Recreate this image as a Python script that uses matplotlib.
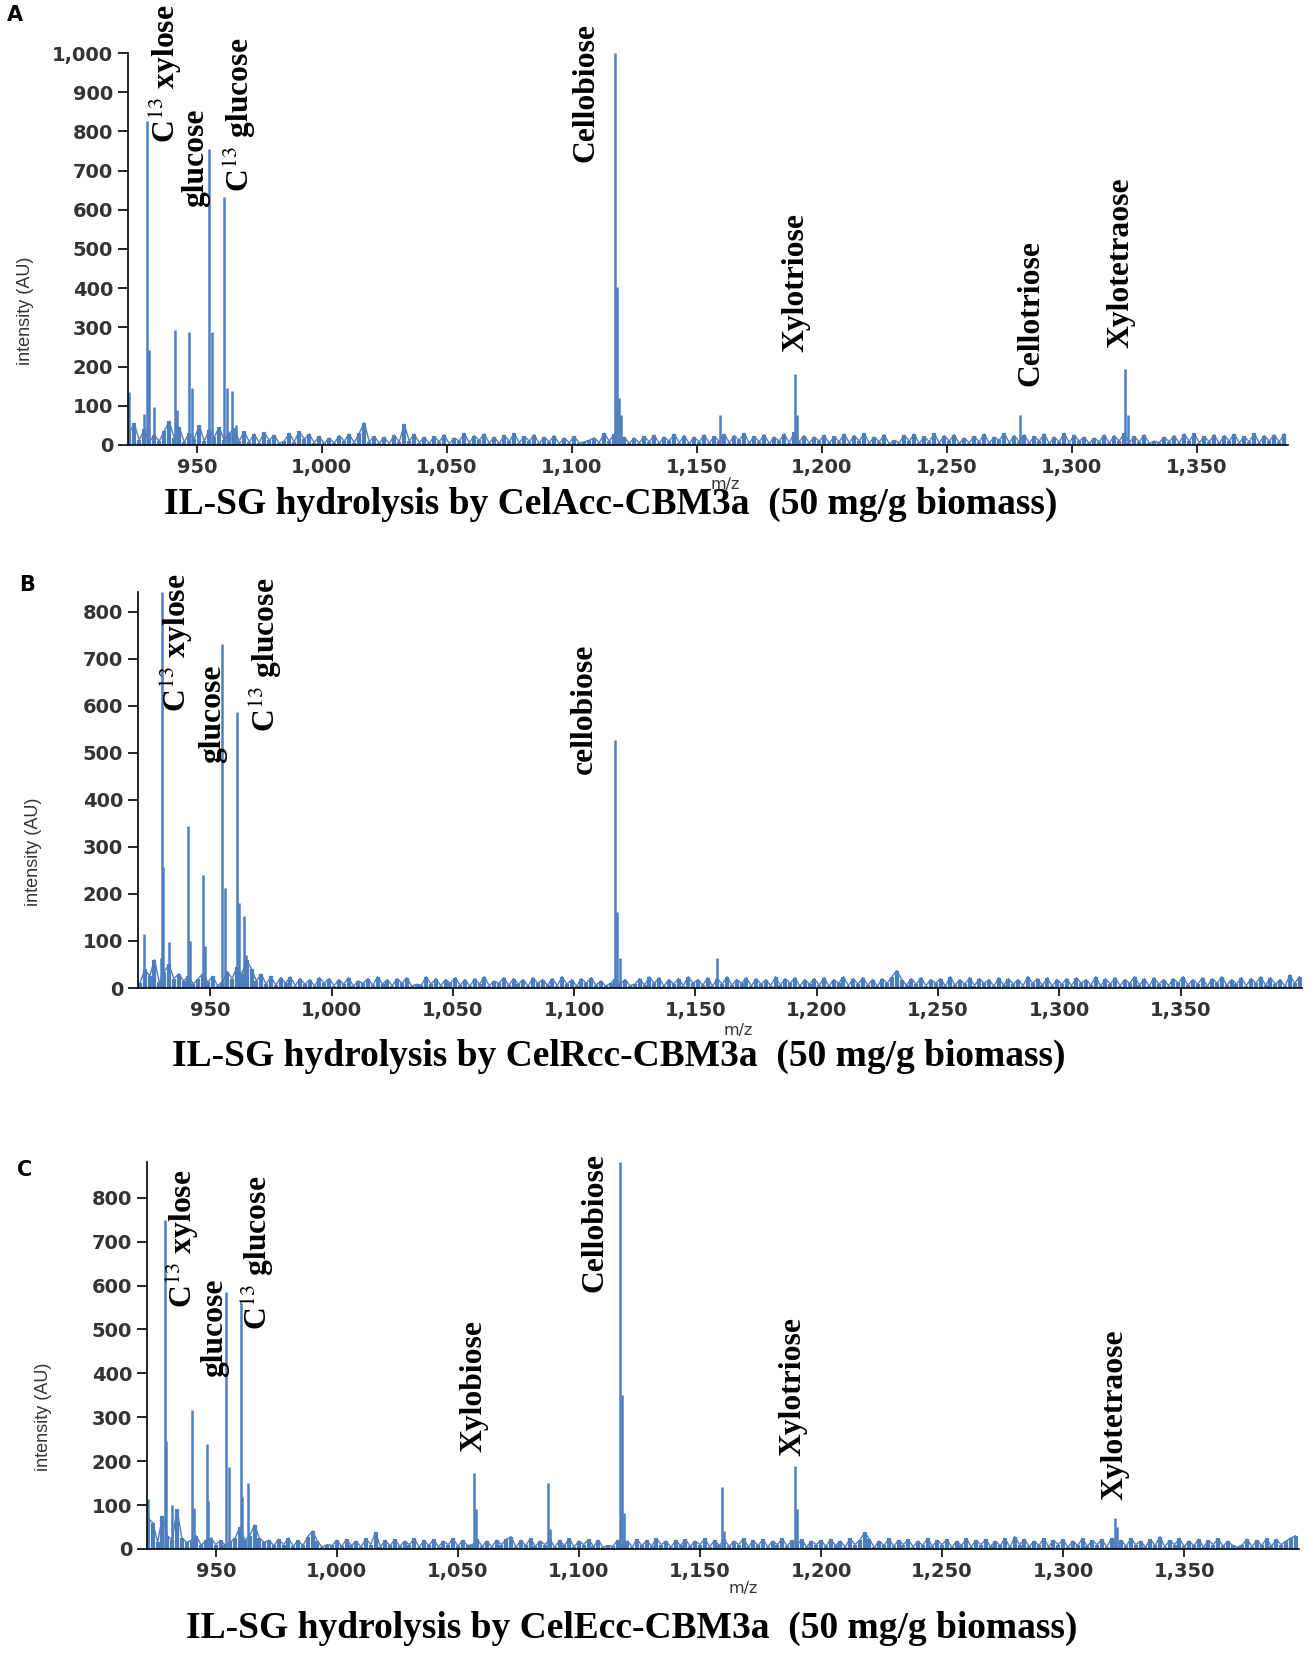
import numpy as np
import matplotlib
matplotlib.use('Agg')
import matplotlib.pyplot as plt
from matplotlib.ticker import MultipleLocator, StrMethodFormatter

plt.rcParams['mathtext.fontset'] = 'stix'

# Panel A: CelAcc-CBM3a
peak_mz_a = [923, 925, 929, 930.1, 930.9, 933, 941.2, 942, 947, 948, 955, 956, 961, 962,
             964, 965.5, 1117.1, 1118.2, 1119, 1119.6, 1159.3, 1189.3, 1190, 1279.1,
             1321.3, 1322.3]
peak_int_a = [136, 55, 80, 827, 242, 98, 293, 90, 287, 145, 755, 287, 632, 145,
              139, 50, 1000, 402, 119, 76, 76, 180, 76, 76, 195, 76]
noise_start_a = 923
noise_a = [30, 55, 12, 40, 8, 25, 10, 35, 60, 18, 45, 8, 30, 15, 50, 10, 38, 20, 45, 12,
           30, 42, 10, 35, 8, 28, 6, 32, 12, 25, 4, 10, 30, 8, 35, 15, 28, 6, 22, 4,
           18, 5, 24, 10, 28, 6, 30, 57, 8, 22, 5, 20, 3, 25, 8, 53, 10, 28, 6, 20,
           4, 22, 8, 26, 3, 18, 10, 30, 6, 24, 12, 28, 5, 20, 4, 25, 9, 30, 6, 22,
           10, 26, 4, 20, 8, 24, 3, 18, 6, 22, 5, 8, 12, 18, 6, 30, 10, 28, 5, 20,
           4, 18, 6, 22, 8, 25, 5, 20, 10, 28, 6, 24, 4, 20, 8, 26, 5, 22, 10, 28,
           6, 24, 12, 30, 5, 22, 8, 26, 4, 20, 10, 28, 6, 32, 8, 24, 5, 20, 10, 25,
           4, 22, 8, 28, 6, 24, 10, 30, 5, 20, 8, 26, 3, 12, 6, 25, 10, 28, 4, 22,
           8, 30, 5, 24, 10, 26, 4, 18, 6, 22, 8, 28, 5, 20, 12, 30, 6, 24, 8, 26,
           5, 22, 10, 28, 4, 20, 8, 30, 6, 25, 10, 20, 4, 18, 8, 26, 5, 24, 10, 30,
           6, 22, 8, 26, 4, 10, 6, 20, 8, 24, 5, 28, 10, 30, 6, 22, 8, 26, 4, 24,
           10, 28, 6, 22, 8, 30, 5, 24, 10, 26, 8, 28]
labels_a = ['C$^{13}$ xylose', 'glucose', 'C$^{13}$ glucose', 'Cellobiose',
            'Xylotriose', 'Cellotriose', 'Xylotetraose']
label_mz_a = [937.3, 949.5, 967, 1105.8, 1189.5, 1283.5, 1319.6]
label_y_a = [770, 607, 646, 723, 238, 150, 247]

# Panel B: CelRcc-CBM3a
peak_mz_b = [922.8, 929.5, 930.0, 930.6, 933.1, 940.9, 941.7, 947.0, 947.8, 954.9,
             955.9, 961.1, 961.8, 963.9, 964.8, 1116.7, 1117.7, 1118.7, 1158.9]
peak_int_b = [114, 63, 842, 258, 97, 345, 100, 240, 90, 731,
              212, 587, 181, 154, 70, 527, 162, 63, 63]
noise_start_b = 921
noise_b = [10, 40, 25, 60, 12, 35, 50, 20, 30, 15, 25, 8, 20, 30, 12, 25, 5, 12, 35, 20,
           45, 30, 60, 40, 15, 30, 8, 25, 6, 22, 10, 24, 5, 20, 8, 18, 4, 22, 10, 20,
           5, 18, 8, 22, 4, 15, 10, 20, 6, 24, 8, 18, 5, 20, 10, 22, 4, 8, 6, 24,
           8, 20, 5, 18, 10, 22, 6, 18, 4, 20, 8, 24, 5, 15, 10, 22, 6, 20, 8, 18,
           4, 22, 10, 18, 6, 20, 5, 24, 8, 18, 4, 20, 10, 22, 6, 15, 4, 10, 20, 8,
           18, 5, 8, 20, 6, 24, 10, 22, 4, 18, 8, 20, 5, 24, 10, 18, 6, 22, 4, 20,
           8, 24, 6, 18, 10, 22, 4, 20, 8, 18, 5, 24, 6, 20, 10, 22, 4, 18, 8, 20,
           6, 22, 4, 18, 10, 24, 5, 20, 8, 22, 6, 18, 4, 20, 10, 24, 37, 18, 6, 20,
           8, 22, 5, 18, 10, 20, 4, 24, 6, 18, 8, 22, 5, 20, 10, 18, 4, 22, 6, 20,
           8, 18, 5, 24, 10, 20, 6, 22, 4, 18, 8, 20, 5, 22, 10, 18, 6, 24, 4, 20,
           8, 22, 5, 18, 10, 24, 6, 20, 4, 22, 8, 18, 5, 20, 10, 24, 6, 18, 8, 22,
           4, 20, 10, 24, 6, 18, 8, 22, 5, 20, 10, 24, 6, 22, 8, 18, 4, 28, 10, 24]
labels_b = ['C$^{13}$ xylose', 'glucose', 'C$^{13}$ glucose', 'cellobiose']
label_mz_b = [935.6, 951, 972.4, 1104.2]
label_y_b = [587, 479, 545, 456]

# Panel C: CelEcc-CBM3a
peak_mz_c = [922, 928, 929.1, 929.6, 932, 940.1, 941, 946.2, 947, 954.4, 955.3, 960.3,
             961, 963.3, 1056.8, 1057.6, 1087.2, 1087.9, 1116.9, 1117.8, 1118.7,
             1159.2, 1159.9, 1189.2, 1190.1, 1321.4, 1322.1]
peak_int_c = [113, 74, 749, 245, 100, 317, 93, 239, 110, 586, 186, 560,
              119, 151, 173, 90, 150, 45, 881, 351, 82,
              142, 40, 189, 91, 71, 50]
noise_start_c = 922
noise_c = [70, 60, 15, 75, 30, 20, 90, 25, 15, 20, 30, 8, 20, 25, 10, 20, 8, 15, 25, 50,
           20, 30, 55, 25, 15, 20, 8, 22, 10, 25, 6, 20, 8, 28, 41, 18, 4, 10, 8, 20,
           6, 22, 8, 18, 4, 24, 10, 38, 5, 20, 8, 22, 6, 18, 10, 24, 4, 20, 8, 22,
           5, 18, 10, 24, 6, 20, 8, 10, 22, 6, 18, 5, 20, 10, 22, 28, 4, 20, 8, 24,
           6, 18, 10, 22, 4, 20, 8, 24, 5, 18, 10, 22, 6, 20, 4, 8, 6, 20, 10, 18,
           5, 22, 8, 20, 6, 24, 10, 18, 4, 20, 8, 22, 6, 18, 10, 24, 5, 20, 8, 22,
           6, 18, 10, 24, 4, 20, 8, 22, 5, 18, 10, 24, 6, 20, 8, 22, 4, 18, 10, 20,
           6, 22, 8, 18, 5, 24, 10, 20, 38, 22, 4, 18, 8, 24, 6, 20, 10, 22, 5, 18,
           8, 24, 6, 20, 10, 22, 4, 18, 8, 24, 5, 20, 10, 22, 6, 18, 8, 24, 4, 28,
           10, 22, 6, 18, 8, 24, 5, 20, 10, 22, 4, 18, 8, 24, 6, 20, 10, 22, 5, 24,
           8, 20, 6, 24, 10, 18, 4, 22, 8, 28, 5, 20, 10, 24, 6, 18, 8, 22, 4, 20,
           10, 24, 6, 18, 8, 4, 10, 22, 5, 20, 8, 24, 6, 22, 10, 18, 25, 30]
labels_c = ['C$^{13}$ xylose', 'glucose', 'C$^{13}$ glucose', 'Xylobiose',
            'Cellobiose', 'Xylotriose', 'Xylotetraose']
label_mz_c = [935.8, 949.6, 967, 1056.5, 1106.5, 1188.3, 1321.4]
label_y_c = [548, 392, 499, 220, 586, 212, 112]

titles = ['IL-SG hydrolysis by CelAcc-CBM3a  (50 mg/g biomass)',
          'IL-SG hydrolysis by CelRcc-CBM3a  (50 mg/g biomass)',
          'IL-SG hydrolysis by CelEcc-CBM3a  (50 mg/g biomass)']
letters = ['A', 'B', 'C']
x_ticks = [950, 1000, 1050, 1100, 1150, 1200, 1250, 1300, 1350]

# ---------------- figura ----------------
W, H = 1308, 1653
fig = plt.figure(figsize=(W / 100, H / 100), dpi=100)
blue = '#4d7fc0'
gray = '#333333'

# caja de cada eje en pixeles: izquierda, derecha, abajo, arriba
boxes = [(128, 1288, 445, 53), (138, 1302, 988, 592), (147, 1299, 1549, 1162)]
xlims = [(922.5, 1386.5), (920.2, 1400), (921.6, 1397.4)]
ylims = [(0, 1000), (0, 842), (0, 881.5)]
ylab_pos = [(25, 311), (33, 852), (43, 1417)]
letter_pos = [(15, 15), (27, 585), (25, 1170)]
title_pos = [(611, 504), (619, 1056), (632, 1628)]
mz_pos = [(725, 485), (738, 1030), (743, 1589)]

panels = [
    (peak_mz_a, peak_int_a, noise_start_a, noise_a, labels_a, label_mz_a, label_y_a),
    (peak_mz_b, peak_int_b, noise_start_b, noise_b, labels_b, label_mz_b, label_y_b),
    (peak_mz_c, peak_int_c, noise_start_c, noise_c, labels_c, label_mz_c, label_y_c),
]

for i, (pmz, pint, nstart, noise, labs, lmz, ly) in enumerate(panels):
    l, r, b, t = boxes[i]
    ax = fig.add_axes([l / W, 1 - b / H, (r - l) / W, (b - t) / H])

    # ruido de fondo: banda densa de picos pequenos
    noise_x = nstart + 2 * np.arange(len(noise))
    ax.vlines(noise_x, 0, noise, color=blue, lw=3.0)
    ax.plot(noise_x, noise, color=blue, lw=1.0)
    # picos principales
    ax.vlines(pmz, 0, pint, color=blue, lw=1.8)

    ax.set_xlim(*xlims[i])
    ax.set_ylim(*ylims[i])
    ax.set_xticks(x_ticks)
    ax.yaxis.set_major_locator(MultipleLocator(100))
    ax.xaxis.set_major_formatter(StrMethodFormatter('{x:,.0f}'))
    ax.yaxis.set_major_formatter(StrMethodFormatter('{x:,.0f}'))
    for s in ['top', 'right']:
        ax.spines[s].set_visible(False)
    for s in ['left', 'bottom']:
        ax.spines[s].set_linewidth(1.2)
        ax.spines[s].set_color('black')
        ax.spines[s].set_zorder(3)
    ax.tick_params(axis='y', length=7.2, width=1.2, pad=3.5, labelsize=14,
                   labelcolor=gray)
    ax.tick_params(axis='x', length=5.5, width=1.2, pad=4, labelsize=14,
                   labelcolor=gray)
    for lab in ax.get_xticklabels() + ax.get_yticklabels():
        lab.set_family('DejaVu Sans')
        lab.set_weight('bold')

    for txt, x, y in zip(labs, lmz, ly):
        ax.text(x, y, txt, rotation=90, ha='center', va='bottom',
                family='Liberation Serif', weight='bold', fontsize=22.8,
                clip_on=False)

    fig.text(ylab_pos[i][0] / W, 1 - ylab_pos[i][1] / H, 'intensity (AU)',
             rotation=90, ha='center', va='center', family='Liberation Sans',
             fontsize=13, color=gray)
    fig.text(letter_pos[i][0] / W, 1 - letter_pos[i][1] / H, letters[i],
             ha='center', va='center', family='DejaVu Sans', weight='bold',
             fontsize=15)
    fig.text(mz_pos[i][0] / W, 1 - mz_pos[i][1] / H, 'm/z', ha='center',
             va='center', family='DejaVu Sans', fontsize=11.5, color=gray)
    fig.text(title_pos[i][0] / W, 1 - title_pos[i][1] / H, titles[i],
             ha='center', va='center', family='Liberation Serif', weight='bold',
             fontsize=27)

fig.savefig('out.png', dpi=100)
